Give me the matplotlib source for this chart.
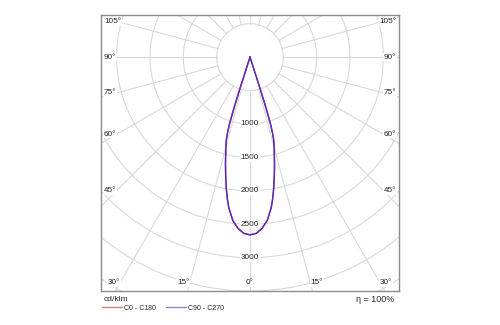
#!/usr/bin/env python
"""Polar light distribution curve (cd/klm) drawn in a rectangular frame."""
import numpy as np
import matplotlib
matplotlib.use("Agg")
import matplotlib.pyplot as plt
from matplotlib.lines import Line2D

# luminous intensity per C-plane, gamma angle in degrees from nadir
gamma = [0, 2, 4, 6, 8, 9, 10, 11, 12, 13, 14, 15, 15.5, 16, 16.5, 17,
         17.3, 17.5, 17.8, 18]
c0_c180 = [2660, 2640, 2570, 2460, 2280, 2160, 2030, 1895, 1760, 1635,
           1510, 1400, 1345, 1285, 1200, 1070, 930, 780, 500, 0]
c90_c270 = [2660, 2640, 2570, 2460, 2280, 2160, 2030, 1895, 1760, 1635,
            1510, 1400, 1345, 1285, 1200, 1070, 930, 780, 500, 0]

ring_values = [500, 1000, 1500, 2000, 2500, 3000, 3500, 4000, 4500, 5000]
ring_labels = [1000, 1500, 2000, 2500, 3000]
angle_labels = [0, 15, 30, 45, 60, 75, 90, 105]
efficiency = "η = 100%"

plt.rcParams['font.family'] = ['Liberation Sans', 'DejaVu Sans']

XMIN, XMAX = -2235, 2235
YMIN, YMAX = -3500, 630
GRID = '#d9d9d9'
TXT = '#262626'
FS = 5.9


def to_xy(angles, values):
    """Gamma angle (deg, 0 = down) and intensity to cartesian coords."""
    a = np.radians(angles)
    v = np.asarray(values, dtype=float)
    return v * np.sin(a), -v * np.cos(a)


def label(x, y, s, ha):
    ax.text(x, y, s, ha=ha, va='center', fontsize=FS, color=TXT, zorder=4,
            bbox=dict(boxstyle='square,pad=0.1', fc='white', ec='none'))


fig = plt.figure(figsize=(5.0, 3.25), dpi=100)
ax = fig.add_axes([0.202, 0.1046, 0.596, 0.8492])
ax.set_xlim(XMIN, XMAX)
ax.set_ylim(YMIN, YMAX)
ax.set_xticks([])
ax.set_yticks([])
for s in ax.spines.values():
    s.set_color('#8c8c8c')
    s.set_linewidth(1.0)

# concentric rings
t = np.linspace(0, 2 * np.pi, 721)
for r in ring_values:
    ax.plot(r * np.cos(t), r * np.sin(t), color=GRID, lw=0.8, zorder=1)

# radial spokes every 15 degrees, starting at the inner ring
for a in range(0, 360, 15):
    xs, ys = to_xy([a, a], [ring_values[0], 10000])
    ax.plot(xs, ys, color=GRID, lw=0.8, zorder=1)

# intensity labels along the nadir axis
for r in ring_labels:
    label(0, -r, str(r), 'center')

# angle labels where the spokes meet the frame
px = (XMAX - XMIN) / 298.0
bottom_y = YMIN + 8 * px
side_x = XMAX - 16 * px
for a in angle_labels:
    rad = np.radians(a)
    if a == 0:
        label(0, bottom_y, f"{a}°", 'center')
    elif a < 90 and abs(bottom_y) * np.tan(rad) < side_x:
        x = abs(bottom_y) * np.tan(rad)
        label(-x, bottom_y, f"{a}°", 'right')
        label(x, bottom_y, f"{a}°", 'left')
    else:
        y = -side_x / np.tan(rad)
        label(XMIN + 3 * px, y, f"{a}°", 'left')
        label(XMAX - 3 * px, y, f"{a}°", 'right')

# curves, mirrored for the opposite half-plane
g = np.concatenate([-np.array(gamma[::-1]), np.array(gamma[1:])])
red = '#e03a4a'
blue = '#4b2cc4'
for vals, col in [(c0_c180, red), (c90_c270, blue)]:
    v = np.concatenate([np.array(vals[::-1]), np.array(vals[1:])])
    x, y = to_xy(g, v)
    ax.plot(x, y, color=col, lw=1.0, zorder=3)

# footer: unit, legend, efficiency
fig.text(0.207, 0.077, "cd/klm", fontsize=6, color=TXT, va='center')
fig.text(0.789, 0.079, efficiency, fontsize=6.5, color=TXT, va='center',
         ha='right')
handles = [Line2D([], [], color='#e27a84', lw=1.0),
           Line2D([], [], color='#8a86d6', lw=1.0)]
fig.legend(handles, ["C0 - C180", "C90 - C270"], loc='center left',
           bbox_to_anchor=(0.204, 0.052), ncol=2, frameon=False,
           fontsize=5.0, handlelength=2.9, handletextpad=0.3,
           columnspacing=1.4, borderpad=0, borderaxespad=0,
           labelcolor=TXT)

fig.savefig("out.png", dpi=100, facecolor='white')
